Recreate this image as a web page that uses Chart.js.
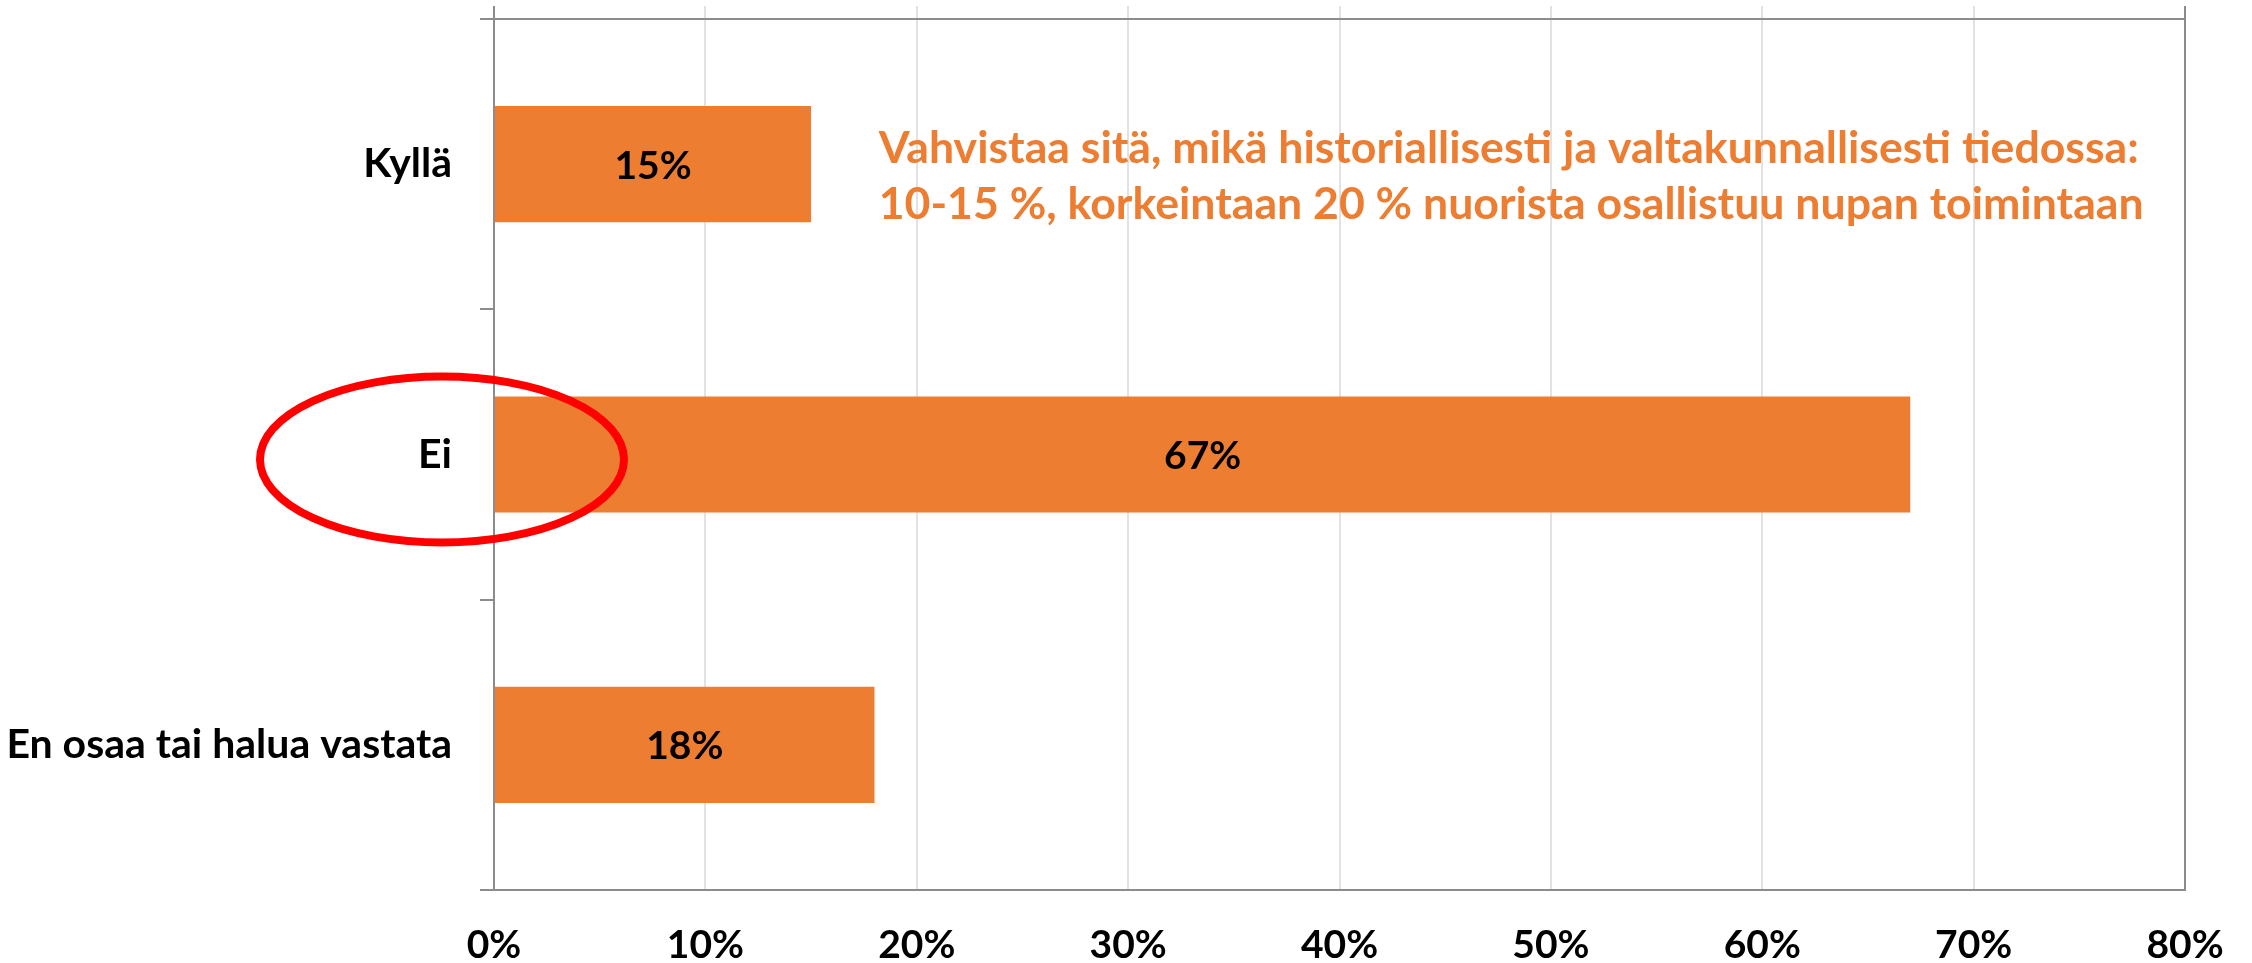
<!DOCTYPE html>
<html>
<head>
<meta charset="utf-8">
<script src="https://cdn.jsdelivr.net/npm/chart.js@4.4.1/dist/chart.umd.min.js"></script>
<style>
html,body{margin:0;padding:0;background:#fff;}
#wrap{width:2252px;height:963px;position:relative;}
</style>
</head>
<body>
<div id="wrap"><canvas id="c"></canvas></div>
<script>
const categories = ['Kyllä', 'Ei', 'En osaa tai halua vastata'];
const values = [15, 67, 18];
const tickValues = [0, 10, 20, 30, 40, 50, 60, 70, 80];
const tickLabels = ['0%', '10%', '20%', '30%', '40%', '50%', '60%', '70%', '80%'];
const noteLines = [
  'Vahvistaa sitä, mikä historiallisesti ja valtakunnallisesti tiedossa:',
  '10-15 %, korkeintaan 20 % nuorista osallistuu nupan toimintaan'
];

const ORANGE = '#ED7D31';
const AXIS = '#8c8c8c';
const GRID = '#e2e2e2';
const FONT = 'Lato, "Open Sans", sans-serif';

function gridColor(ctx) {
  const v = ctx.tick ? ctx.tick.value : null;
  return (v === 0 || v === 80) ? AXIS : GRID;
}
function zeroPad(scale) {
  scale.paddingTop = 0; scale.paddingBottom = 0;
  scale.paddingLeft = 0; scale.paddingRight = 0;
}

const overlay = {
  id: 'overlay',
  afterDatasetsDraw(chart) {
    const ctx = chart.ctx;
    const meta = chart.getDatasetMeta(0);
    ctx.save();
    ctx.fillStyle = '#000';
    ctx.font = 'bold 39px ' + FONT;
    ctx.textAlign = 'center';
    ctx.textBaseline = 'middle';
    meta.data.forEach((bar, i) => {
      const p = bar.getCenterPoint();
      ctx.fillText(values[i] + '%', p.x, p.y + 2);
    });
    ctx.restore();

    const xs = chart.scales.x;
    const ys = chart.scales.y;
    ctx.save();
    ctx.fillStyle = ORANGE;
    let size = 40;
    ctx.font = 'bold ' + size + 'px ' + FONT;
    const w = Math.max(...noteLines.map(l => ctx.measureText(l).width));
    size = size * 1265 / w;
    ctx.font = 'bold ' + size.toFixed(2) + 'px ' + FONT;
    ctx.textAlign = 'left';
    ctx.textBaseline = 'middle';
    const left = xs.getPixelForValue(18.2);
    const y0 = ys.getPixelForValue(0) - 16;
    noteLines.forEach((l, i) => ctx.fillText(l, left, y0 + i * 56));
    ctx.restore();

    ctx.save();
    ctx.strokeStyle = '#FF0000';
    ctx.lineWidth = 8;
    ctx.beginPath();
    ctx.ellipse(chart.chartArea.left - 52, ys.getPixelForValue(1) + 5, 182, 83, 0, 0, Math.PI * 2);
    ctx.stroke();
    ctx.restore();
  }
};

new Chart(document.getElementById('c'), {
  type: 'bar',
  data: {
    labels: categories,
    datasets: [{
      data: values,
      backgroundColor: ORANGE,
      borderWidth: 0,
      barPercentage: 0.4,
      categoryPercentage: 1.0,
      xAxisID: 'x',
      yAxisID: 'y'
    }]
  },
  options: {
    indexAxis: 'y',
    responsive: true,
    maintainAspectRatio: false,
    animation: false,
    layout: { padding: { left: 0, right: 67, top: 0, bottom: 0 } },
    plugins: { legend: { display: false }, tooltip: { enabled: false } },
    scales: {
      x: {
        type: 'linear',
        position: 'bottom',
        min: 0, max: 80,
        afterBuildTicks(scale) { scale.ticks = tickValues.map(v => ({ value: v })); },
        afterFit(scale) { scale.height = 73; zeroPad(scale); },
        ticks: {
          callback: (v) => tickLabels[tickValues.indexOf(v)],
          font: { family: FONT, size: 39, weight: 'bold' },
          color: '#000',
          padding: 32,
          maxRotation: 0
        },
        grid: { color: gridColor, lineWidth: 2, drawTicks: false },
        border: { display: true, color: AXIS, width: 2 }
      },
      x2: {
        type: 'linear',
        position: 'top',
        min: 0, max: 80,
        afterBuildTicks(scale) { scale.ticks = tickValues.map(v => ({ value: v })); },
        afterFit(scale) { scale.height = 19; zeroPad(scale); },
        ticks: { display: false },
        grid: { color: gridColor, lineWidth: 2, drawOnChartArea: false, drawTicks: true, tickLength: 13 },
        border: { display: true, color: AXIS, width: 2 }
      },
      y: {
        type: 'category',
        offset: true,
        afterFit(scale) { scale.width = 494; zeroPad(scale); },
        ticks: {
          font: { family: FONT, size: 41, weight: 'bold' },
          color: '#000',
          padding: 28
        },
        grid: { offset: true, drawOnChartArea: false, color: AXIS, lineWidth: 2, tickLength: 14 },
        border: { display: true, color: AXIS, width: 2 }
      }
    }
  },
  plugins: [overlay]
});
</script>
</body>
</html>
